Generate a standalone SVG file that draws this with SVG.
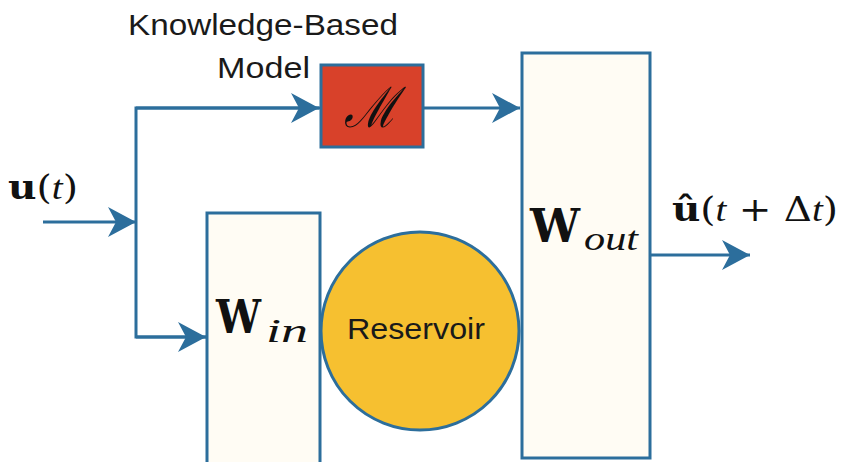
<svg xmlns="http://www.w3.org/2000/svg" width="842" height="462" viewBox="0 0 842 462">
<style>
.box{fill:#fffcf4;stroke:#2c6e9c;stroke-width:3}
.wire{fill:none;stroke:#2c6e9c;stroke-width:3}
.lbl{font-family:"Liberation Sans",Arial,sans-serif;fill:#1a1a1a}
.math{font-family:"DejaVu Serif","Liberation Serif",serif;fill:#111}
.it{font-family:"Liberation Serif","DejaVu Serif",serif;font-style:italic}
</style>
<defs>
<marker id="arr" markerUnits="userSpaceOnUse" markerWidth="30" markerHeight="32" refX="28" refY="15" orient="auto" viewBox="0 0 30 30">
<path d="M0,0 L28,15 L0,30 L8,15 z" fill="#2c6e9c"/>
</marker>
</defs>
<rect width="842" height="462" fill="#fff"/>
<g id="connectors">
<line class="wire" x1="43" y1="222" x2="136" y2="222" marker-end="url(#arr)"/>
<polyline class="wire" points="320,108 136,108 136,337 207,337"/>
<line class="wire" x1="136" y1="108" x2="319" y2="108" marker-end="url(#arr)"/>
<line class="wire" x1="136" y1="337" x2="206" y2="337" marker-end="url(#arr)"/>
<line class="wire" x1="423" y1="108" x2="520" y2="108" marker-end="url(#arr)"/>
<line class="wire" x1="650" y1="255" x2="750" y2="255" marker-end="url(#arr)"/>
</g>
<g id="model">
<rect x="321" y="65" width="102" height="82" fill="#d8412a" stroke="#2c6e9c" stroke-width="3"/>
<text x="371" y="127" text-anchor="middle" font-family="DejaVu Serif,serif" font-style="italic" font-size="56" fill="#111" textLength="54" lengthAdjust="spacingAndGlyphs">ℳ</text>
<text class="lbl" x="263" y="35" text-anchor="middle" font-size="29" textLength="270" lengthAdjust="spacingAndGlyphs">Knowledge-Based</text>
<text class="lbl" x="310" y="78" text-anchor="end" font-size="29" textLength="93" lengthAdjust="spacingAndGlyphs">Model</text>
</g>
<g id="input">
<text class="math" x="8" y="199" font-size="34" textLength="70" lengthAdjust="spacingAndGlyphs"><tspan font-weight="bold">u</tspan>(<tspan class="it">t</tspan>)</text>
</g>
<g id="win">
<rect class="box" x="207" y="213" width="113" height="252"/>
<text class="math" x="216" y="333" font-size="46" font-weight="bold" textLength="45" lengthAdjust="spacingAndGlyphs">W</text>
<text class="math it" x="266" y="342" font-size="34" textLength="42" lengthAdjust="spacingAndGlyphs">in</text>
</g>
<g id="reservoir">
<circle cx="420" cy="331" r="99" fill="#f6c030" stroke="#2c6e9c" stroke-width="3"/>
<text class="lbl" x="416" y="339" text-anchor="middle" font-size="29" textLength="138" lengthAdjust="spacingAndGlyphs">Reservoir</text>
</g>
<g id="wout">
<rect class="box" x="522" y="53" width="128" height="405"/>
<text class="math" x="530" y="242" font-size="46" font-weight="bold" textLength="50" lengthAdjust="spacingAndGlyphs">W</text>
<text class="math it" x="584" y="250" font-size="34" textLength="54" lengthAdjust="spacingAndGlyphs">out</text>
</g>
<g id="output">
<text class="math" x="672" y="221" font-size="34" textLength="166" lengthAdjust="spacingAndGlyphs"><tspan font-weight="bold">û</tspan>(<tspan class="it">t</tspan> + Δ<tspan class="it">t</tspan>)</text>
</g>
</svg>
